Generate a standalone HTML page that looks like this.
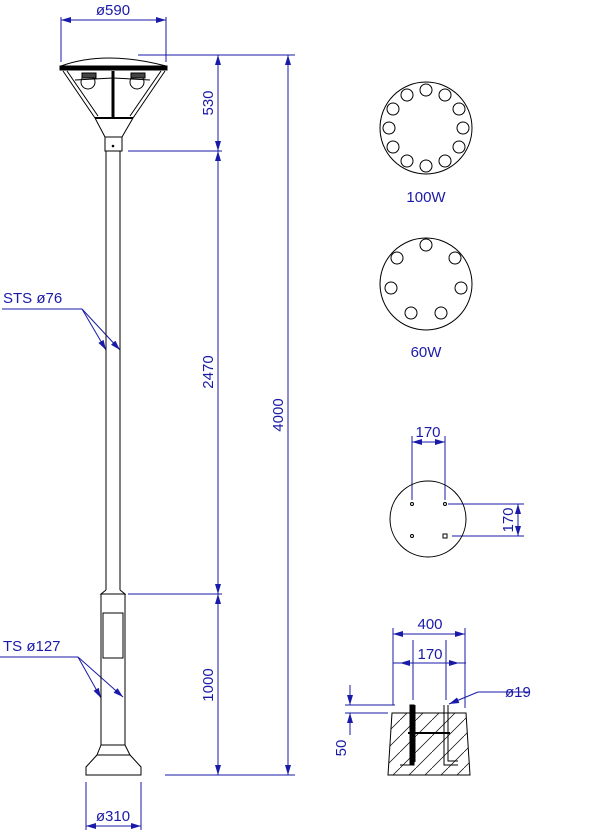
<!DOCTYPE html>
<html><head><meta charset="utf-8"><style>
html,body{margin:0;padding:0;background:#fff;}
svg{display:block;}
text{font-family:"Liberation Sans",sans-serif;fill:#1a1aa8;font-size:15px;font-weight:300;}
</style></head><body>
<svg width="613" height="832" viewBox="0 0 613 832" xmlns="http://www.w3.org/2000/svg">
<defs>
<marker id="a" viewBox="0 0 10 6" refX="10" refY="3" markerWidth="10" markerHeight="6" orient="auto-start-reverse" markerUnits="userSpaceOnUse"><path d="M0,0L10,3L0,6z" fill="#1a1aa8"/></marker>
<pattern id="h" width="16" height="16" patternUnits="userSpaceOnUse"><path d="M0,16L16,0" stroke="#000" stroke-width="0.7"/></pattern>
</defs>
<g stroke="#1a1aa8" stroke-width="1" fill="none">
<line x1="61" y1="17" x2="61" y2="62"/><line x1="166" y1="17" x2="166" y2="62"/>
<line x1="61" y1="20" x2="166" y2="20" marker-start="url(#a)" marker-end="url(#a)"/>
<line x1="138" y1="55" x2="295" y2="55"/>
<line x1="128" y1="151" x2="222" y2="151"/>
<line x1="128" y1="594" x2="222" y2="594"/>
<line x1="165" y1="775" x2="295" y2="775"/>
<line x1="218" y1="55" x2="218" y2="151" marker-start="url(#a)" marker-end="url(#a)"/>
<line x1="218" y1="151" x2="218" y2="594" marker-start="url(#a)" marker-end="url(#a)"/>
<line x1="218" y1="594" x2="218" y2="775" marker-start="url(#a)" marker-end="url(#a)"/>
<line x1="288" y1="55" x2="288" y2="775" marker-start="url(#a)" marker-end="url(#a)"/>
<line x1="86" y1="782" x2="86" y2="830"/><line x1="141" y1="782" x2="141" y2="830"/>
<line x1="86" y1="826" x2="141" y2="826" marker-start="url(#a)" marker-end="url(#a)"/>
<line x1="2" y1="309" x2="82" y2="309"/>
<line x1="82" y1="309" x2="106" y2="350" marker-end="url(#a)"/>
<line x1="82" y1="309" x2="120" y2="350" marker-end="url(#a)"/>
<line x1="0" y1="657" x2="78" y2="657"/>
<line x1="78" y1="657" x2="101" y2="698" marker-end="url(#a)"/>
<line x1="78" y1="657" x2="123" y2="697" marker-end="url(#a)"/>
<line x1="412" y1="436" x2="412" y2="500"/><line x1="445" y1="436" x2="445" y2="500"/>
<line x1="412" y1="442" x2="445" y2="442" marker-start="url(#a)" marker-end="url(#a)"/>
<line x1="448" y1="504" x2="524" y2="504"/><line x1="452" y1="536" x2="524" y2="536"/>
<line x1="518" y1="504" x2="518" y2="536" marker-start="url(#a)" marker-end="url(#a)"/>
<line x1="393" y1="628" x2="393" y2="705"/><line x1="465" y1="628" x2="465" y2="708"/>
<line x1="393" y1="634" x2="465" y2="634" marker-start="url(#a)" marker-end="url(#a)"/>
<line x1="413" y1="640" x2="413" y2="700"/><line x1="446" y1="640" x2="446" y2="700"/>
<line x1="393" y1="663" x2="466" y2="663"/>
<line x1="413" y1="663" x2="400" y2="663" marker-end="url(#a)"/>
<line x1="446" y1="663" x2="459" y2="663" marker-end="url(#a)"/>
<line x1="530" y1="692" x2="478" y2="692"/>
<line x1="478" y1="692" x2="449" y2="704" marker-end="url(#a)"/>
<line x1="345" y1="705" x2="395" y2="705"/><line x1="345" y1="713" x2="388" y2="713"/>
<line x1="350" y1="685" x2="350" y2="705" marker-end="url(#a)"/>
<line x1="350" y1="735" x2="350" y2="713" marker-end="url(#a)"/>
</g>
<g stroke="#000" stroke-width="1" fill="none">
<path d="M61,66 Q105,50 166,66"/>
<rect x="60" y="66" width="107" height="4" fill="#000"/>
<path d="M63,71 L95,118 M67,71 L98,116 M165,71 L133,118 M161,71 L130,116"/>
<line x1="95" y1="118" x2="133" y2="118" stroke-width="2"/>
<line x1="113" y1="71" x2="113" y2="118" stroke-width="3"/>
<path d="M75,80 L113,78 L150,80"/>
<circle cx="88" cy="82" r="7"/><circle cx="137" cy="82" r="7"/>
<rect x="82" y="73" width="14" height="5" fill="#444"/><rect x="131" y="73" width="14" height="5" fill="#444"/>
<path d="M95,118 L105,137 M133,118 L122,137"/>
<rect x="105" y="137" width="17" height="14"/>
<circle cx="113" cy="146" r="0.8" fill="#000"/>
<path d="M106,151 V590 M120,151 V590"/>
<path d="M106,590 L101,594 H125 L120,590"/>
<path d="M101,594 V745 M125,594 V745"/>
<rect x="103" y="613" width="20" height="45"/>
<path d="M101,745 L97,755 H130 L125,745 Z"/>
<path d="M97,755 L86,767 V775 H141 V767 L130,755"/>
<circle cx="426" cy="128" r="46"/>
<circle cx="426" cy="90" r="6"/><circle cx="445" cy="95" r="6"/><circle cx="459" cy="109" r="6"/>
<circle cx="463" cy="128" r="6"/><circle cx="459" cy="147" r="6"/><circle cx="445" cy="161" r="6"/>
<circle cx="426" cy="166" r="6"/><circle cx="407" cy="161" r="6"/><circle cx="393" cy="147" r="6"/>
<circle cx="389" cy="128" r="6"/><circle cx="393" cy="109" r="6"/><circle cx="407" cy="95" r="6"/>
<circle cx="426" cy="284" r="46"/>
<circle cx="426" cy="245" r="6"/><circle cx="455" cy="258" r="6"/><circle cx="461" cy="288" r="6"/>
<circle cx="441" cy="313" r="6"/><circle cx="411" cy="313" r="6"/><circle cx="391" cy="288" r="6"/><circle cx="397" cy="258" r="6"/>
<circle cx="428" cy="519" r="38"/>
<circle cx="412" cy="504" r="1.5"/><circle cx="445" cy="504" r="1.5"/><circle cx="412" cy="536" r="1.5"/><rect x="443" y="534" width="4" height="4"/>
<path d="M392,713 L466,713 L470,775 L388,775 Z" fill="url(#h)"/>
<path d="M411,705 V765 H400 M415,705 V762"/>
<rect x="410" y="705" width="4" height="60" fill="#000"/>
<path d="M444,705 V765 H458 M448,705 V761 H458"/>
<line x1="408" y1="733" x2="450" y2="733" stroke-width="2"/>
</g>
<g>
<text x="113" y="15" text-anchor="middle">ø590</text>
<text x="113" y="821" text-anchor="middle">ø310</text>
<text x="3" y="303">STS ø76</text>
<text x="3" y="651">TS ø127</text>
<text transform="translate(213,103) rotate(-90)" text-anchor="middle">530</text>
<text transform="translate(213,372) rotate(-90)" text-anchor="middle">2470</text>
<text transform="translate(213,685) rotate(-90)" text-anchor="middle">1000</text>
<text transform="translate(283,415) rotate(-90)" text-anchor="middle">4000</text>
<text x="426" y="202" text-anchor="middle">100W</text>
<text x="426" y="357" text-anchor="middle">60W</text>
<text x="428" y="437" text-anchor="middle">170</text>
<text transform="translate(513,520) rotate(-90)" text-anchor="middle">170</text>
<text x="430" y="629" text-anchor="middle">400</text>
<text x="430" y="659" text-anchor="middle">170</text>
<text x="505" y="697">ø19</text>
<text transform="translate(346,748) rotate(-90)" text-anchor="middle">50</text>
</g>
</svg>
</body></html>
